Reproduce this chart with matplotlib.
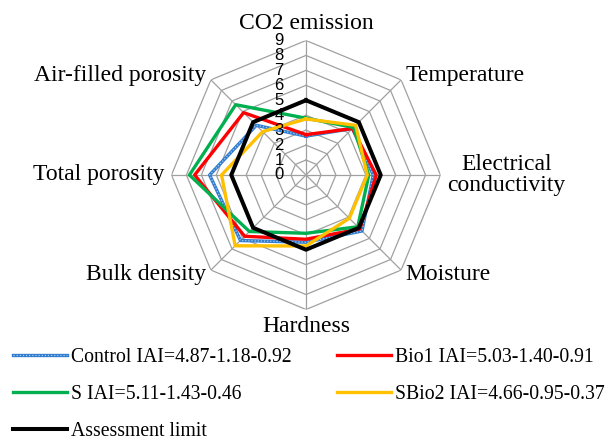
import numpy as np
import matplotlib.pyplot as plt

plt.rcParams['font.family'] = ['Liberation Serif', 'DejaVu Serif']

# categories, clockwise from the top
categories = ['CO2 emission', 'Temperature', 'Electrical\nconductivity', 'Moisture',
              'Hardness', 'Bulk density', 'Total porosity', 'Air-filled porosity']

control = [2.6, 4.4, 4.5, 5.3, 4.5, 6.2, 6.45, 4.7]
bio1 = [2.7, 4.4, 4.7, 5.1, 4.3, 5.8, 7.45, 5.9]
s_vals = [3.8, 4.5, 4.2, 4.9, 3.9, 5.35, 7.8, 6.65]
sbio2 = [3.75, 4.7, 4.1, 4.1, 4.75, 6.7, 5.65, 4.1]
limit = [5, 5, 5, 5, 5, 5, 5, 5]

labels = ['Control IAI=4.87-1.18-0.92', 'Bio1 IAI=5.03-1.40-0.91',
          'S IAI=5.11-1.43-0.46', 'SBio2 IAI=4.66-0.95-0.37', 'Assessment limit']
ticks = list(range(0, 10))

n = len(categories)
ang = np.arange(n) * 2 * np.pi / n
ang_c = np.append(ang, ang[0])


def closed(v):
    return np.append(v, v[0])


fig = plt.figure(figsize=(6.07, 4.4), dpi=100)
ax = fig.add_axes([0.2825, 0.2966, 0.4432, 0.6114], projection='polar')
ax.set_theta_zero_location('N')
ax.set_theta_direction(-1)
ax.set_ylim(0, 9)
ax.grid(False)
ax.spines['polar'].set_visible(False)
ax.set_xticks([])
ax.set_yticks([])
ax.patch.set_alpha(0)

grid_c = '#A0A0A0'
for r in ticks[1:]:
    ax.plot(ang_c, [r] * (n + 1), color=grid_c, lw=0.9, zorder=1)
for a in ang:
    ax.plot([a, a], [0, 9], color=grid_c, lw=0.9, zorder=1)

# series
l_ctrl = ax.plot(ang_c, closed(control), color='#2E7BCF', lw=2.4, zorder=3)[0]
l_ctrl2 = ax.plot(ang_c, closed(control), color='#A9CDF0', lw=0.9,
                  linestyle=(0, (1, 1.5)), zorder=3)[0]
l_bio1 = ax.plot(ang_c, closed(bio1), color='#FF0000', lw=2.4, zorder=4)[0]
l_s = ax.plot(ang_c, closed(s_vals), color='#00B050', lw=2.4, zorder=5)[0]
l_sbio2 = ax.plot(ang_c, closed(sbio2), color='#FFC000', lw=2.4, zorder=6)[0]
l_lim = ax.plot(ang_c, closed(limit), color='black', lw=2.9, zorder=7)[0]

# radial tick numbers
for t in ticks:
    ax.annotate(str(t), xy=(0, t), xytext=(-16, 0), textcoords='offset points',
                ha='right', va='center', fontsize=12,
                family=['Liberation Sans', 'DejaVu Sans'], zorder=8)

# category labels
for a, lab in zip(ang, categories):
    deg = np.degrees(a) % 360
    if deg == 0:
        ha, va = 'center', 'bottom'
    elif deg == 180:
        ha, va = 'center', 'top'
    elif deg < 180:
        ha, va = 'left', 'center'
    else:
        ha, va = 'right', 'center'
    ax.text(a, 9.45, lab, ha=ha, va=va, fontsize=17, multialignment='center',
            linespacing=1.05)

handles = [(l_ctrl, l_ctrl2), l_s, l_lim, l_bio1, l_sbio2]
leg_labels = [labels[0], labels[2], labels[4], labels[1], labels[3]]
fig.legend(handles, leg_labels, loc='upper left', bbox_to_anchor=(13 / 607, 0.209),
           ncol=2, frameon=False, fontsize=14.2, handlelength=2.75,
           handletextpad=0.2, columnspacing=2.3, labelspacing=0.92,
           borderpad=0, borderaxespad=0)

fig.savefig('out.png', dpi=100)
